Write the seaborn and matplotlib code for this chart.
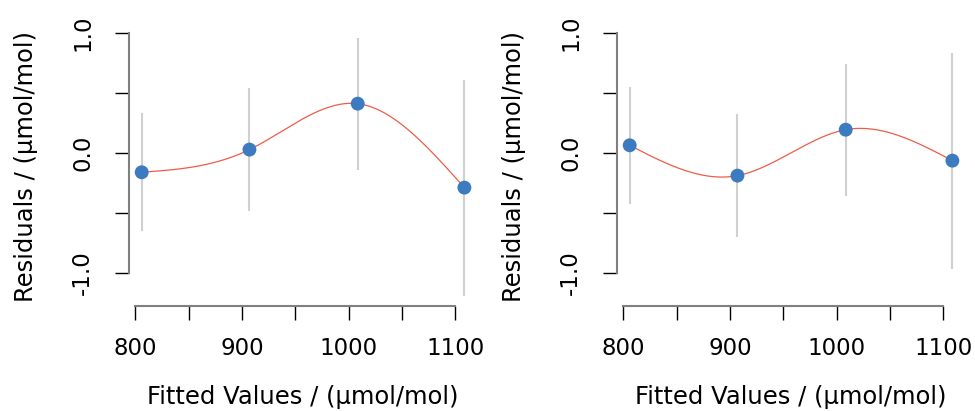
import numpy as np
import matplotlib
matplotlib.use("Agg")
import matplotlib.pyplot as plt
import seaborn as sns

# fitted values (x) shared by both panels
fitted = [806.0, 907.0, 1008.5, 1108.5]

# residuals and half-width of the grey bars, one list per panel
resid_left = [-0.161, 0.028, 0.411, -0.289]
resid_right = [0.064, -0.189, 0.194, -0.064]
err_left = [0.49, 0.51, 0.55, 0.90]
err_right = [0.49, 0.51, 0.55, 0.90]

x_ticks = [800, 850, 900, 950, 1000, 1050, 1100]
x_labels = ["800", "", "900", "", "1000", "", "1100"]
y_ticks = [-1.0, -0.5, 0.0, 0.5, 1.0]
y_labels = ["-1.0", "", "0.0", "", "1.0"]

POINT = "#3c7bc0"
LINE = "#ee5c4a"
BAR = "#d0d0d0"


def natural_spline(x, y, n=300):
    # natural cubic spline through the points (second derivative 0 at the ends)
    x = np.asarray(x, float)
    y = np.asarray(y, float)
    k = len(x)
    h = np.diff(x)
    A = np.zeros((k, k))
    b = np.zeros(k)
    A[0, 0] = A[-1, -1] = 1.0
    for i in range(1, k - 1):
        A[i, i - 1] = h[i - 1]
        A[i, i] = 2 * (h[i - 1] + h[i])
        A[i, i + 1] = h[i]
        b[i] = 6 * ((y[i + 1] - y[i]) / h[i] - (y[i] - y[i - 1]) / h[i - 1])
    M = np.linalg.solve(A, b)
    xs = np.linspace(x[0], x[-1], n)
    idx = np.clip(np.searchsorted(x, xs) - 1, 0, k - 2)
    x0, x1 = x[idx], x[idx + 1]
    hh = x1 - x0
    t0, t1 = x1 - xs, xs - x0
    ys = (M[idx] * t0 ** 3 + M[idx + 1] * t1 ** 3) / (6 * hh) \
        + (y[idx] / hh - M[idx] * hh / 6) * t0 \
        + (y[idx + 1] / hh - M[idx + 1] * hh / 6) * t1
    return xs, ys


sns.set_style("white")
plt.rcParams["font.family"] = ["DejaVu Sans"]
plt.rcParams["text.color"] = "black"
plt.rcParams["axes.labelcolor"] = "black"
plt.rcParams["xtick.color"] = "black"
plt.rcParams["ytick.color"] = "black"

fig = plt.figure(figsize=(9.75, 4.11), dpi=100)
W, H = 975, 411
boxes = [(128.8, 27.5, 348.5, 278.5), (616.8, 27.5, 348.5, 278.5)]

panels = [(resid_left, err_left), (resid_right, err_right)]
for (left, top, w, h), (resid, err) in zip(boxes, panels):
    ax = fig.add_axes([left / W, (H - top - h) / H, w / W, h / H])
    lo = [r - e for r, e in zip(resid, err)]
    hi = [r + e for r, e in zip(resid, err)]
    ax.vlines(fitted, lo, hi, color=BAR, linewidth=1.5, zorder=1)
    xs, ys = natural_spline(fitted, resid)
    sns.lineplot(x=xs, y=ys, ax=ax, color=LINE, linewidth=0.9, sort=False, zorder=2)
    sns.scatterplot(x=fitted, y=resid, ax=ax, color=POINT, s=100, edgecolor="none", zorder=3)

    ax.set_xlim(793.9, 1120.6)
    ax.set_ylim(-1.276, 1.046)
    ax.set_xticks(x_ticks)
    ax.set_xticklabels(x_labels)
    ax.set_yticks(y_ticks)
    ax.set_yticklabels(y_labels, rotation=90, va="center")
    for s in ["top", "right"]:
        ax.spines[s].set_visible(False)
    ax.spines["left"].set_bounds(-1, 1)
    ax.spines["bottom"].set_bounds(800, 1100)
    for s in ["left", "bottom"]:
        ax.spines[s].set_color("#808080")
        ax.spines[s].set_linewidth(1.5)
    ax.tick_params(axis="both", direction="out", length=10, width=1, color="black",
                   labelcolor="black", labelsize=16.5, left=True, bottom=True)
    ax.tick_params(axis="x", pad=12)
    ax.tick_params(axis="y", pad=15)
    ax.set_xlabel("Fitted Values / (µmol/mol)", fontsize=17.5, labelpad=18)
    ax.set_ylabel("Residuals / (µmol/mol)", fontsize=17.5, labelpad=24)
    ax.grid(False)

fig.savefig("out.png", dpi=100)
